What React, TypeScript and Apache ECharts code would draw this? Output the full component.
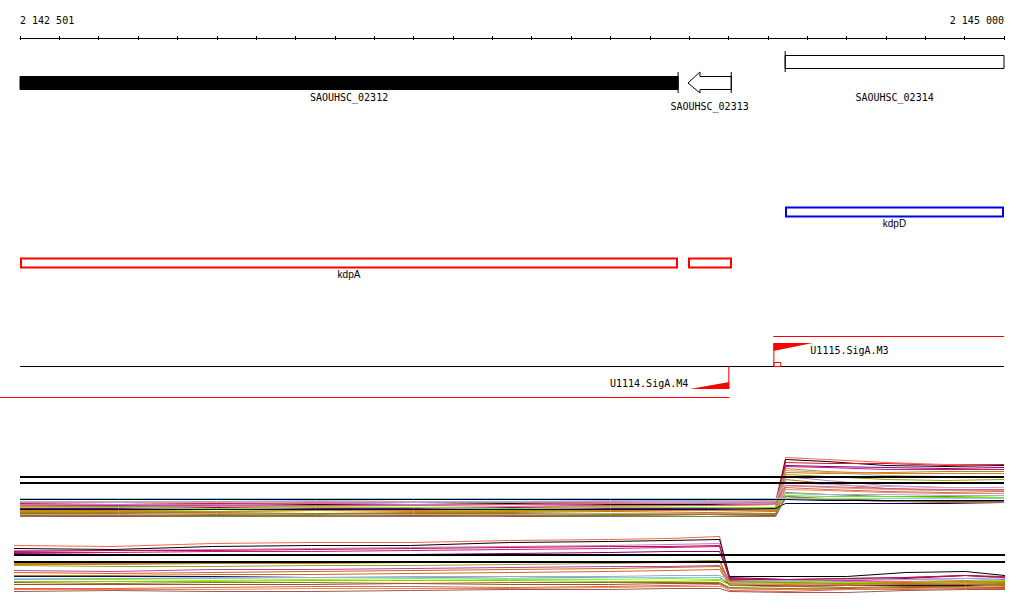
import React, { useEffect, useRef } from 'react';
import * as echarts from 'echarts';

// ---------------- genomic window ----------------
const AXIS_MIN = 2142500;
const RANGE_START = 2142501;
const RANGE_END = 2145000;
const TICK_STEP = 100;

// ---------------- genes ----------------
const GENE_NAMES = ['SAOUHSC_02312', 'SAOUHSC_02313', 'SAOUHSC_02314'];
const GENE_STARTS = [2142480, 2144197, 2144444];
const GENE_ENDS = [2144172, 2144307, 2147100];
const GENE_STRANDS = ['-', '-', '+'];
const GENE_SELECTED = [true, false, false];

// ---------------- annotations ----------------
const BLUE_NAMES = ['kdpD'];
const BLUE_STARTS = [2144444];
const BLUE_ENDS = [2145000];
const RED_NAMES = ['kdpA', ''];
const RED_STARTS = [2142500, 2144197];
const RED_ENDS = [2144172, 2144308];

// ---------------- promoters ----------------
const PROMOTER_NAMES = ['U1115.SigA.M3', 'U1114.SigA.M4'];
const PROMOTER_POS = [2144414, 2144302];
const PROMOTER_STRANDS = ['+', '-'];
const TRANSCRIPT_ENDS = [2145000, 2142449];

// ---------------- expression, forward strand ----------------
const T1_X = [2142500, 2142750, 2143000, 2143250, 2143500, 2143750, 2144000, 2144250, 2144420, 2144445, 2144550, 2144700, 2144850, 2145000];
const T1_COLORS = ['#ff6347', '#000000', '#dc143c', '#800080', '#c71585', '#d2861a', '#c49a9a', '#b8860b', '#a0a000', '#c080c0', '#d2691e', '#c8a8d0', '#cc9988', '#c87137', '#fa8072', '#6b8e23', '#66ee00', '#808000', '#a0522d', '#000040', '#907060', '#e05890', '#a0b0d8', '#87cefa', '#000000', '#000000', '#000000'];
const T1_S01 = [17, 17, 16, 17, 18, 17, 17, 18, 19, 62, 60, 57, 55, 55];
const T1_S02 = [15, 15, 14, 15, 15, 16, 15, 15, 15, 60, 58, 54, 53, 54];
const T1_S03 = [16, 15, 16, 16, 17, 17, 16, 16, 17, 57, 56, 56, 54, 55];
const T1_S04 = [11, 11, 12, 11, 11, 12, 11, 11, 12, 54, 53, 52, 51, 52];
const T1_S05 = [14, 14, 13, 14, 15, 15, 14, 14, 15, 53, 52, 50, 50, 50];
const T1_S06 = [8, 8, 8, 9, 8, 8, 9, 9, 9, 51, 48, 46, 46, 46];
const T1_S07 = [17, 18, 17, 18, 18, 17, 18, 17, 18, 49, 47, 44, 43, 43];
const T1_S08 = [10, 9, 10, 10, 9, 10, 10, 10, 10, 47, 46, 47, 48, 48];
const T1_S09 = [9, 9, 8, 9, 10, 9, 9, 10, 10, 45, 43, 40, 39, 40];
const T1_S10 = [15, 15, 15, 16, 15, 15, 16, 16, 17, 43, 39, 34, 32, 32];
const T1_S11 = [7, 7, 7, 6, 7, 7, 8, 7, 8, 40, 36, 31, 29, 28];
const T1_S12 = [18, 18, 18, 19, 18, 18, 19, 19, 20, 37, 35, 33, 32, 32];
const T1_S13 = [5, 5, 6, 6, 5, 5, 6, 6, 6, 34, 32, 30, 29, 29];
const T1_S14 = [4, 4, 4, 5, 4, 4, 4, 5, 5, 32, 30, 28, 27, 26];
const T1_S15 = [13, 13, 13, 13, 14, 13, 13, 14, 15, 30, 29, 27, 26, 26];
const T1_S16 = [6, 6, 5, 6, 6, 6, 5, 5, 6, 27, 25, 23, 23, 22];
const T1_S17 = [12, 12, 11, 12, 12, 11, 12, 12, 12, 24, 23, 23, 22, 22];
const T1_S18 = [4, 3, 4, 4, 3, 4, 4, 3, 4, 23, 21, 19, 18, 17];
const T1_S19 = [3, 3, 3, 3, 4, 3, 3, 3, 4, 21, 20, 19, 18, 18];
const T1_S20 = [10, 10, 10, 10, 10, 10, 10, 10, 11, 16, 16, 16, 16, 17];
const T1_S21 = [3, 4, 3, 3, 3, 4, 3, 3, 3, 23, 20, 18, 17, 17];
const T1_S22 = [14, 13, 14, 14, 14, 15, 14, 14, 16, 34, 33, 31, 30, 30];
const T1_S23 = [18, 17, 18, 18, 17, 18, 18, 18, 19, 26, 25, 25, 24, 24];
const T1_S24 = [21, 21, 21, 21, 21, 21, 21, 21, 21, 21, 21, 21, 21, 21];
const T1_S25 = [20, 20, 20, 20, 20, 20, 20, 20, 20, 20, 19, 19, 19, 19];
const T1_S26 = [42.5, 42.5, 42.5, 42.5, 42.5, 42.5, 42.5, 42.5, 42.5, 42.5, 42.5, 42.5, 42.5, 42.5];
const T1_S27 = [36.5, 36.5, 36.5, 36.5, 36.5, 36.5, 36.5, 36.5, 36.5, 36.5, 36.5, 36.5, 36.5, 36.5];
const T1_SERIES = [T1_S01, T1_S02, T1_S03, T1_S04, T1_S05, T1_S06, T1_S07, T1_S08, T1_S09, T1_S10, T1_S11, T1_S12, T1_S13, T1_S14, T1_S15, T1_S16, T1_S17, T1_S18, T1_S19, T1_S20, T1_S21, T1_S22, T1_S23, T1_S24, T1_S25, T1_S26, T1_S27];
const T1_THICK = [false, false, false, false, false, false, false, false, false, false, false, false, false, false, false, false, false, false, false, false, false, false, false, false, false, true, true];

// ---------------- expression, reverse strand ----------------
const T2_X = [2142500, 2142750, 2143000, 2143250, 2143500, 2143750, 2144000, 2144150, 2144280, 2144305, 2144450, 2144600, 2144750, 2144900, 2145000];
const T2_COLORS = ['#ff6347', '#000000', '#c878c8', '#c71585', '#800080', '#000000', '#000000', '#d88020', '#a0a020', '#c040a0', '#d2691e', '#101040', '#87cefa', '#7cfc00', '#a0c020', '#808000', '#a0522d', '#e06040', '#906050', '#a0a8d0', '#b8860b', '#c01040', '#c86428', '#f08060'];
const T2_S01 = [54, 53, 56, 57, 57, 59, 60, 61, 63, 20, 19, 18, 18, 19, 19];
const T2_S02 = [51, 50, 53, 54, 54, 57, 58, 59, 60, 23, 23, 23, 27, 28, 24];
const T2_S03 = [49, 49, 50, 51, 52, 53, 54, 55, 56, 19, 18, 18, 17, 18, 18];
const T2_S04 = [47, 47, 48, 48, 49, 50, 51, 52, 53, 21, 20, 21, 22, 24, 23];
const T2_S05 = [46, 45, 44, 44, 45, 46, 47, 48, 48, 22, 20, 19, 21, 24, 22];
const T2_S06 = [44.5, 44.5, 44.5, 44.5, 44.5, 44.5, 44.5, 44.5, 44.5, 44.5, 44.5, 44.5, 44.5, 44.5, 44.5];
const T2_S07 = [37.5, 37.5, 37.5, 37.5, 37.5, 37.5, 37.5, 37.5, 37.5, 37.5, 37.5, 37.5, 37.5, 37.5, 37.5];
const T2_S08 = [36, 36, 36, 37, 37, 37, 38, 38, 38, 16, 15, 16, 16, 17, 17];
const T2_S09 = [34, 33, 33, 34, 34, 35, 36, 37, 39, 17, 17, 16, 17, 18, 18];
const T2_S10 = [29, 28, 30, 30, 31, 32, 33, 33, 34, 19, 18, 19, 20, 21, 20];
const T2_S11 = [24, 24, 25, 25, 26, 27, 28, 29, 30, 15, 14, 15, 16, 16, 16];
const T2_S12 = [23, 23, 23, 22, 22, 23, 22, 22, 22, 15, 13, 14, 14, 14, 15];
const T2_S13 = [21, 21, 22, 22, 22, 21, 22, 22, 22, 17, 18, 17, 17, 18, 21];
const T2_S14 = [20, 20, 19, 20, 21, 20, 20, 21, 20, 18, 19, 17, 17, 18, 19];
const T2_S15 = [18, 18, 18, 19, 19, 19, 18, 18, 19, 15, 16, 16, 15, 16, 17];
const T2_S16 = [17, 16, 17, 17, 16, 17, 17, 17, 17, 12, 11, 12, 13, 13, 14];
const T2_S17 = [15, 15, 15, 15, 16, 15, 15, 16, 16, 11, 10, 11, 12, 12, 12];
const T2_S18 = [11, 11, 12, 13, 13, 12, 13, 14, 15, 9, 8, 10, 10, 11, 11];
const T2_S19 = [8, 9, 8, 8, 9, 10, 10, 11, 11, 8, 7, 7, 9, 10, 10];
const T2_S20 = [20, 21, 21, 22, 23, 23, 23, 24, 24, 20, 19, 20, 20, 21, 22];
const T2_S21 = [35, 35, 36, 36, 37, 37, 38, 38, 39, 18, 17, 16, 17, 18, 17];
const T2_S22 = [48, 49, 49, 50, 51, 52, 53, 53, 54, 20, 20, 21, 22, 24, 22];
const T2_S23 = [27, 26, 27, 28, 29, 30, 31, 32, 33, 14, 13, 14, 15, 15, 15];
const T2_S24 = [10, 10, 10, 11, 11, 11, 12, 13, 13, 11, 10, 10, 11, 12, 13];
const T2_SERIES = [T2_S01, T2_S02, T2_S03, T2_S04, T2_S05, T2_S06, T2_S07, T2_S08, T2_S09, T2_S10, T2_S11, T2_S12, T2_S13, T2_S14, T2_S15, T2_S16, T2_S17, T2_S18, T2_S19, T2_S20, T2_S21, T2_S22, T2_S23, T2_S24];
const T2_THICK = [false, false, false, false, false, true, true, false, false, false, false, false, false, false, false, false, false, false, false, false, false, false, false, false];

// ---------------- layout / style ----------------
const MONO = '10px "DejaVu Sans Mono", "Liberation Mono", monospace';
const SANS = '10px "Liberation Sans", "DejaVu Sans", sans-serif';
const GENE_LABEL_LEVEL = [0, 1, 0];
const PROMOTER_MARK_BP = 100;
const RED = '#ff0000';
const BLUE = '#0000ee';

function fmtPos(v: number) {
  return String(v).replace(/\B(?=(\d{3})+(?!\d))/g, ' ');
}

function buildOption(): any {
  const px = (api: any, v: number) => api.coord([v, 0])[0];
  const cpx = (api: any, v: number) => px(api, Math.min(Math.max(v, AXIS_MIN), RANGE_END));

  const geneSeries = {
    type: 'custom',
    coordinateSystem: 'cartesian2d',
    xAxisIndex: 0,
    yAxisIndex: 0,
    silent: true,
    clip: false,
    encode: { x: [0, 1], y: 2 },
    data: GENE_NAMES.map((_, i) => [GENE_STARTS[i], GENE_ENDS[i], 0]),
    renderItem: (params: any, api: any) => {
      const i = params.dataIndex;
      const s = api.value(0);
      const e = api.value(1);
      const x1 = cpx(api, s);
      const x2 = cpx(api, e);
      const children: any[] = [];
      const fill = GENE_SELECTED[i] ? '#000' : '#fff';
      if (GENE_STRANDS[i] === '-') {
        const top = 76.5, bot = 89.5, yc = 83, ht = 72, hb = 93;
        if (s >= AXIS_MIN) {
          const hx = x1 + 12;
          children.push({
            type: 'polygon',
            shape: { points: [[x1, yc], [hx, ht], [hx, top], [x2, top], [x2, bot], [hx, bot], [hx, hb]] },
            style: { fill, stroke: '#000', lineWidth: 1 },
          });
        } else {
          children.push({ type: 'rect', shape: { x: x1, y: top, width: x2 - x1, height: bot - top }, style: { fill, stroke: '#000', lineWidth: 1 } });
        }
        if (e <= RANGE_END) children.push({ type: 'line', shape: { x1: x2, y1: ht, x2: x2, y2: hb }, style: { stroke: '#000', lineWidth: 1 } });
      } else {
        const top = 55.5, bot = 68.5, ht = 51, hb = 72;
        children.push({ type: 'rect', shape: { x: x1, y: top, width: x2 - x1, height: bot - top }, style: { fill, stroke: '#000', lineWidth: 1 } });
        if (s >= AXIS_MIN) children.push({ type: 'line', shape: { x1: x1, y1: ht, x2: x1, y2: hb }, style: { stroke: '#000', lineWidth: 1 } });
      }
      children.push({
        type: 'text',
        style: { text: GENE_NAMES[i], x: (x1 + x2) / 2, y: 97.5 + GENE_LABEL_LEVEL[i] * 9, textAlign: 'center', textVerticalAlign: 'middle', font: MONO, fill: '#000' },
      });
      return { type: 'group', children };
    },
  };

  const boxSeries = (names: string[], starts: number[], ends: number[], color: string, top: number) => ({
    type: 'custom',
    coordinateSystem: 'cartesian2d',
    xAxisIndex: 0,
    yAxisIndex: 0,
    silent: true,
    clip: false,
    encode: { x: [0, 1], y: 2 },
    data: names.map((_, i) => [starts[i], ends[i], 0]),
    renderItem: (params: any, api: any) => {
      const i = params.dataIndex;
      const x1 = Math.round(cpx(api, api.value(0)));
      const x2 = Math.round(cpx(api, api.value(1)));
      const children: any[] = [
        { type: 'rect', shape: { x: x1 + 1, y: top + 1, width: x2 - x1 - 2, height: 9 }, style: { fill: '#fff', stroke: color, lineWidth: 2 } },
      ];
      if (names[i]) {
        children.push({ type: 'text', style: { text: names[i], x: (x1 + x2) / 2, y: top + 17, textAlign: 'center', textVerticalAlign: 'middle', font: SANS, fill: '#000' } });
      }
      return { type: 'group', children };
    },
  });

  const baselineSeries = {
    type: 'custom',
    coordinateSystem: 'cartesian2d',
    xAxisIndex: 0,
    yAxisIndex: 0,
    silent: true,
    clip: false,
    encode: { x: [0, 1], y: 2 },
    data: [[AXIS_MIN, RANGE_END, 0]],
    renderItem: (_p: any, api: any) => ({
      type: 'line',
      shape: { x1: px(api, api.value(0)), y1: 366.5, x2: px(api, api.value(1)), y2: 366.5 },
      style: { stroke: '#000', lineWidth: 1 },
    }),
  };

  const promoterSeries = {
    type: 'custom',
    coordinateSystem: 'cartesian2d',
    xAxisIndex: 0,
    yAxisIndex: 0,
    silent: true,
    clip: false,
    encode: { x: [0, 1], y: 2 },
    data: PROMOTER_NAMES.map((_, i) => [PROMOTER_POS[i], TRANSCRIPT_ENDS[i], 0]),
    renderItem: (params: any, api: any) => {
      const i = params.dataIndex;
      const pos = api.value(0);
      const x = px(api, pos);
      const xt = px(api, api.value(1));
      if (PROMOTER_STRANDS[i] === '+') {
        const w = px(api, pos + PROMOTER_MARK_BP) - x;
        return {
          type: 'group',
          children: [
            { type: 'line', shape: { x1: x, y1: 336.5, x2: xt, y2: 336.5 }, style: { stroke: RED, lineWidth: 1 } },
            { type: 'line', shape: { x1: x + 0.5, y1: 343, x2: x + 0.5, y2: 366 }, style: { stroke: RED, lineWidth: 1 } },
            { type: 'polygon', shape: { points: [[x, 343], [x + w, 343], [x, 351]] }, style: { fill: RED } },
            { type: 'rect', shape: { x: x + 0.5, y: 362.5, width: 7, height: 4 }, style: { fill: 'none', stroke: RED, lineWidth: 1 } },
            { type: 'text', style: { text: PROMOTER_NAMES[i], x: x + 37, y: 350, textAlign: 'left', textVerticalAlign: 'middle', font: MONO, fill: '#000' } },
          ],
        };
      }
      const w = x - px(api, pos - PROMOTER_MARK_BP);
      return {
        type: 'group',
        children: [
          { type: 'line', shape: { x1: xt, y1: 397.5, x2: x, y2: 397.5 }, style: { stroke: RED, lineWidth: 1 } },
          { type: 'line', shape: { x1: x - 0.5, y1: 366, x2: x - 0.5, y2: 389 }, style: { stroke: RED, lineWidth: 1 } },
          { type: 'polygon', shape: { points: [[x, 382], [x, 389], [x - w, 389]] }, style: { fill: RED } },
          { type: 'text', style: { text: PROMOTER_NAMES[i], x: x - 41, y: 383, textAlign: 'right', textVerticalAlign: 'middle', font: MONO, fill: '#000' } },
        ],
      };
    },
  };

  const lineSeries = (xs: number[], all: number[][], colors: string[], thick: boolean[], axis: number) =>
    all.map((vals, k) => ({
      type: 'line',
      xAxisIndex: axis,
      yAxisIndex: axis,
      showSymbol: false,
      symbol: 'none',
      silent: true,
      clip: true,
      z: thick[k] ? 3 : 2,
      lineStyle: { color: colors[k], width: thick[k] ? 2 : 1 },
      data: xs.map((x, j) => [x, vals[j]]),
    }));

  return {
    animation: false,
    backgroundColor: '#ffffff',
    grid: [
      { left: 20, right: 20, top: 38, height: 360 },
      { left: 20, right: 20, top: 449.5, height: 70 },
      { left: 14, right: 19, top: 529.5, height: 70 },
      { left: 20, right: 20, top: 38, height: 4 },
    ],
    xAxis: [
      {
        gridIndex: 0,
        type: 'value',
        position: 'top',
        min: AXIS_MIN,
        max: RANGE_END,
        interval: TICK_STEP,
        axisLine: { show: true, onZero: false, lineStyle: { color: '#000', width: 1 } },
        axisTick: { show: true, inside: false, length: 2, lineStyle: { color: '#000', width: 1 } },
        splitLine: { show: false },
        axisLabel: {
          show: true,
          margin: 13,
          color: '#000',
          fontFamily: '"DejaVu Sans Mono", monospace',
          fontSize: 10,
          alignMinLabel: 'left',
          alignMaxLabel: 'right',
          formatter: (v: number) => (v === AXIS_MIN ? fmtPos(RANGE_START) : v === RANGE_END ? fmtPos(RANGE_END) : ''),
        },
      },
      { gridIndex: 1, type: 'value', min: AXIS_MIN, max: RANGE_END, show: false },
      { gridIndex: 2, type: 'value', min: AXIS_MIN, max: RANGE_END, show: false },
      {
        gridIndex: 3,
        type: 'value',
        position: 'top',
        min: AXIS_MIN,
        max: RANGE_END,
        interval: TICK_STEP,
        axisLine: { show: false, onZero: false },
        axisTick: { show: true, inside: true, length: 2, lineStyle: { color: '#000', width: 1 } },
        axisLabel: { show: false },
        splitLine: { show: false },
      },
    ],
    yAxis: [
      { gridIndex: 0, type: 'value', min: 0, max: 1, show: false },
      { gridIndex: 1, type: 'value', min: 0, max: 70, show: false },
      { gridIndex: 2, type: 'value', min: 0, max: 70, show: false },
      { gridIndex: 3, type: 'value', min: 0, max: 1, show: false },
    ],
    series: [
      geneSeries,
      boxSeries(BLUE_NAMES, BLUE_STARTS, BLUE_ENDS, BLUE, 206.5),
      boxSeries(RED_NAMES, RED_STARTS, RED_ENDS, RED, 257.5),
      baselineSeries,
      promoterSeries,
      ...lineSeries(T1_X, T1_SERIES, T1_COLORS, T1_THICK, 1),
      ...lineSeries(T2_X, T2_SERIES, T2_COLORS, T2_THICK, 2),
    ],
  };
}

export default function App() {
  const ref = useRef<HTMLDivElement | null>(null);
  useEffect(() => {
    document.body.style.margin = '0';
    if (!ref.current) return;
    const chart = echarts.init(ref.current, undefined, { renderer: 'svg' });
    chart.setOption(buildOption());
    return () => chart.dispose();
  }, []);
  return <div ref={ref} style={{ position: 'absolute', left: 0, top: 0, width: 1024, height: 611, background: '#fff' }} />;
}
